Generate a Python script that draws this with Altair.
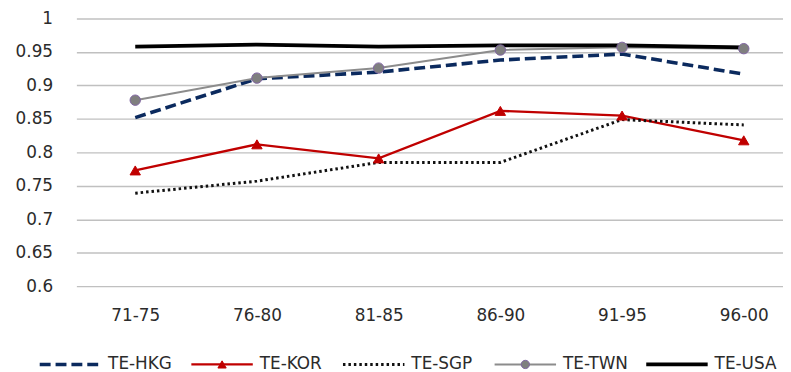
import altair as alt
import pandas as pd

periods = ["71-75", "76-80", "81-85", "86-90", "91-95", "96-00"]
series = ["TE-HKG", "TE-KOR", "TE-SGP", "TE-TWN", "TE-USA"]
hkg = [0.852, 0.910, 0.920, 0.938, 0.947, 0.917]
kor = [0.773, 0.812, 0.791, 0.862, 0.855, 0.818]
sgp = [0.739, 0.757, 0.785, 0.785, 0.849, 0.841]
twn = [0.878, 0.911, 0.926, 0.953, 0.957, 0.955]
usa = [0.958, 0.961, 0.958, 0.960, 0.960, 0.957]
y_ticks = [0.6, 0.65, 0.7, 0.75, 0.8, 0.85, 0.9, 0.95, 1.0]

values = {"TE-HKG": hkg, "TE-KOR": kor, "TE-SGP": sgp, "TE-TWN": twn, "TE-USA": usa}
rows = []
for s in series:
    for p, v in zip(periods, values[s]):
        rows.append({"period": p, "series": s, "value": v})
df = pd.DataFrame(rows)
df_leg = pd.DataFrame({"series": series})

FONT = "DejaVu Sans"
TXT = "#2b2b2b"
FS = 17

styles = {
    "TE-HKG": dict(color="#0b2a5e", strokeDash=[11, 5], strokeWidth=3.6),
    "TE-KOR": dict(color="#c00000", strokeWidth=2.3),
    "TE-SGP": dict(color="#111111", strokeDash=[2.5, 3], strokeWidth=3.0),
    "TE-TWN": dict(color="#8c8c8c", strokeWidth=2.0),
    "TE-USA": dict(color="#000000", strokeWidth=3.8),
}
markers = {
    "TE-KOR": dict(shape="triangle-up", fill="#c00000", stroke="#c00000"),
    "TE-TWN": dict(shape="circle", fill="#7f7f7f", stroke="#8064a2"),
}

x_enc = alt.X("period:O", sort=periods, title=None,
              scale=alt.Scale(type="point", padding=0.403, align=0.6),
              axis=alt.Axis(labelAngle=0, ticks=False, domain=False, grid=False,
                            labelFont=FONT, labelFontSize=FS, labelColor=TXT, labelPadding=22))
y_enc = alt.Y("value:Q", title=None,
              scale=alt.Scale(domain=[0.6, 1.0], nice=False, zero=False),
              axis=alt.Axis(values=y_ticks, format=".2~f", ticks=False, domain=False,
                            gridColor="#c0c0c0", gridWidth=1.4,
                            labelFont=FONT, labelFontSize=FS, labelColor=TXT, labelPadding=24))

base = alt.Chart(df)
main_layers = []
for s in series:
    main_layers.append(
        base.transform_filter(alt.datum.series == s)
        .mark_line(**styles[s])
        .encode(x=x_enc, y=y_enc)
    )
for s, m in markers.items():
    main_layers.append(
        base.transform_filter(alt.datum.series == s)
        .mark_point(filled=True, size=110, strokeWidth=1, opacity=1, **m)
        .encode(x=x_enc, y=y_enc)
    )
main = alt.layer(*main_layers)

x_leg = alt.X("series:N", sort=series, axis=None,
              scale=alt.Scale(type="point", range=[-37, 575], padding=0))
LEG_Y = 349

leg_base = alt.Chart(df_leg)
leg_layers = []
for s in series:
    leg_layers.append(
        leg_base.transform_filter(alt.datum.series == s)
        .mark_rule(x2Offset=62, **styles[s])
        .encode(x=x_leg, x2=alt.X2("series:N"), y=alt.value(LEG_Y))
    )
for s, m in markers.items():
    leg_layers.append(
        leg_base.transform_filter(alt.datum.series == s)
        .mark_point(filled=True, size=70, strokeWidth=1, opacity=1, xOffset=31, **m)
        .encode(x=x_leg, y=alt.value(LEG_Y))
    )
leg_layers.append(
    leg_base.mark_text(align="left", baseline="middle", xOffset=69, font=FONT,
                       fontSize=FS, color=TXT)
    .encode(x=x_leg, y=alt.value(LEG_Y), text="series:N")
)
legend = alt.layer(*leg_layers)

chart = alt.layer(main, legend).resolve_scale(x="independent").properties(
    width=713,
    height=270,
    autosize=alt.AutoSizeParams(type="none"),
    padding={"left": 69, "top": 9, "right": 0, "bottom": 90},
    background="white",
).configure_view(stroke=None)

chart.save("out.html", embed_options={"renderer": "svg", "actions": False})
